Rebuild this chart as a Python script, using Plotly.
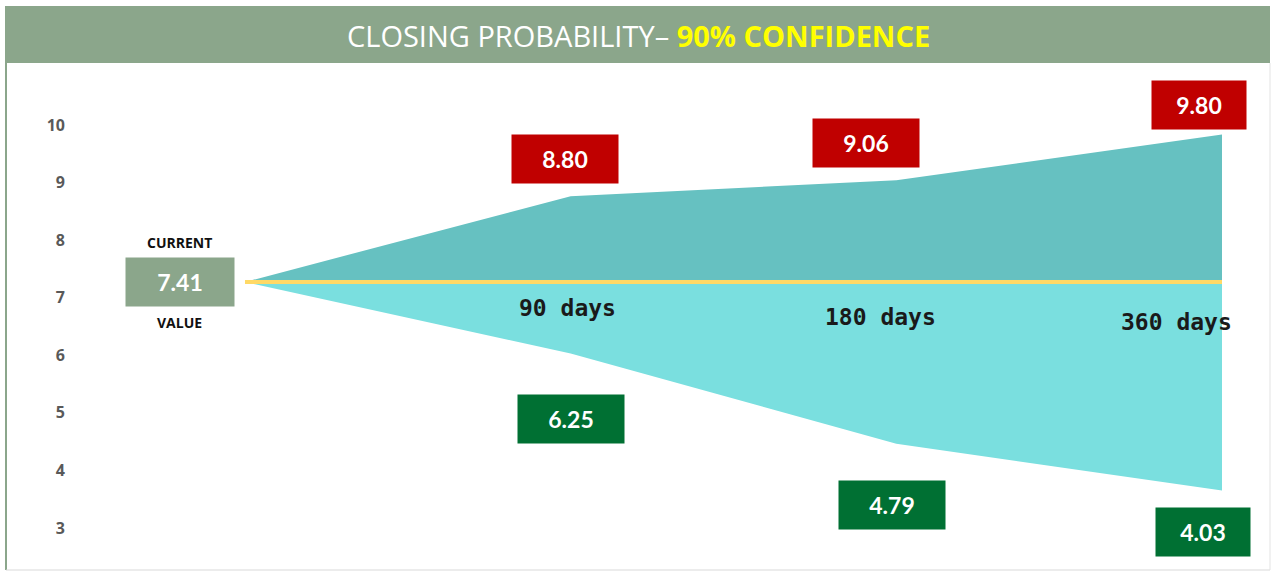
import plotly.graph_objects as go

# --- data -------------------------------------------------------------
categories = ["Current", "90 days", "180 days", "360 days"]
current_value = 7.41
upper_values = [7.41, 8.80, 9.06, 9.80]
lower_values = [7.41, 6.25, 4.79, 4.03]
tick_values = [3, 4, 5, 6, 7, 8, 9, 10]

# --- styling ----------------------------------------------------------
W, H = 1273, 572
ML = 70
SAGE = "#8BA68B"
RED = "#C00000"
GREEN = "#007033"
UPPER_FILL = "#66C1C1"
LOWER_FILL = "#7ADFDF"
YELLOW = "#FFD966"
VALUE_FONT = dict(family="Lato", size=23, color="white", weight="bold")

# box offsets (px) from each data point, and box widths
upper_shift = [None, (-6, 37), (-30, 37), (-23, 30)]
lower_shift = [None, (0, -65), (-4, -61), (-19, -41)]
box_width = [None, 106, 106, 94]
day_shift = [None, (-3, -26), (-16, -35), (-46, -40)]


def px_x(p):
    return (p - ML) / (W - ML)


def px_y(p):
    return 1 - p / H


fig = go.Figure()

baseline = [current_value] * len(categories)

# upper band
fig.add_trace(go.Scatter(x=categories, y=baseline, mode="lines",
                         line=dict(width=0), hoverinfo="skip", showlegend=False))
fig.add_trace(go.Scatter(x=categories, y=upper_values, mode="lines",
                         line=dict(width=0), fill="tonexty", fillcolor=UPPER_FILL,
                         showlegend=False))
# lower band
fig.add_trace(go.Scatter(x=categories, y=baseline, mode="lines",
                         line=dict(width=0), hoverinfo="skip", showlegend=False))
fig.add_trace(go.Scatter(x=categories, y=lower_values, mode="lines",
                         line=dict(width=0), fill="tonexty", fillcolor=LOWER_FILL,
                         showlegend=False))
# current value line
fig.add_trace(go.Scatter(x=categories, y=baseline, mode="lines",
                         line=dict(width=4, color=YELLOW), showlegend=False))

# tick axis only (decorative scale on the left)
fig.add_trace(go.Scatter(x=[categories[0]], y=[tick_values[0]], yaxis="y2",
                         mode="markers", marker=dict(opacity=0),
                         hoverinfo="skip", showlegend=False))

annotations = []
for i in range(1, len(categories)):
    dx, dy = upper_shift[i]
    annotations.append(dict(
        x=categories[i], y=upper_values[i], xref="x", yref="y",
        text=f"{upper_values[i]:.2f}", showarrow=False, xshift=dx, yshift=dy,
        bgcolor=RED, width=box_width[i], height=48, borderpad=0,
        font=VALUE_FONT, valign="middle"))
    dx, dy = lower_shift[i]
    annotations.append(dict(
        x=categories[i], y=lower_values[i], xref="x", yref="y",
        text=f"{lower_values[i]:.2f}", showarrow=False, xshift=dx, yshift=dy,
        bgcolor=GREEN, width=box_width[i], height=48, borderpad=0,
        font=VALUE_FONT, valign="middle"))
    dx, dy = day_shift[i]
    annotations.append(dict(
        x=categories[i], y=current_value, xref="x", yref="y",
        text=categories[i], showarrow=False, xshift=dx, yshift=dy,
        font=dict(family="DejaVu Sans Mono", size=23, color="#1a1a1a",
                  weight="bold")))

# current value box
annotations += [
    dict(x=categories[0], y=current_value, xref="x", yref="y",
         text=f"{current_value:.2f}", showarrow=False, xshift=-65,
         bgcolor=SAGE, width=108, height=48, borderpad=0, font=VALUE_FONT),
    dict(x=categories[0], y=current_value, xref="x", yref="y",
         text="CURRENT", showarrow=False, xshift=-65, yshift=40,
         font=dict(family="Open Sans", size=14, color="#111", weight="bold")),
    dict(x=categories[0], y=current_value, xref="x", yref="y",
         text="VALUE", showarrow=False, xshift=-65, yshift=-40,
         font=dict(family="Open Sans", size=14, color="#111", weight="bold")),
    # title
    dict(x=px_x(638), y=px_y(36), xref="paper", yref="paper",
         xanchor="center", yanchor="middle",
         text="CLOSING PROBABILITY\u2013 <b><span style='color:#FFFF00'>90% CONFIDENCE</span></b>",
         showarrow=False, font=dict(family="Open Sans", size=29, color="white")),
]

shapes = [
    dict(type="rect", xref="paper", yref="paper",
         x0=px_x(5), x1=px_x(1270), y0=px_y(63), y1=px_y(6),
         fillcolor=SAGE, line=dict(width=0), layer="below"),
    dict(type="line", xref="paper", yref="paper",
         x0=px_x(6), x1=px_x(6), y0=px_y(570), y1=px_y(63),
         line=dict(color=SAGE, width=2)),
    dict(type="line", xref="paper", yref="paper",
         x0=px_x(6), x1=px_x(1270), y0=px_y(570), y1=px_y(570),
         line=dict(color="#d9d9d9", width=1)),
    dict(type="line", xref="paper", yref="paper",
         x0=px_x(1270), x1=px_x(1270), y0=px_y(570), y1=px_y(63),
         line=dict(color="#e3e3e3", width=1)),
]

# pixel scale: 7.41 at y=282, 61.7 px per unit
fig.update_layout(
    width=W, height=H,
    margin=dict(l=ML, r=0, t=0, b=0),
    paper_bgcolor="white", plot_bgcolor="white",
    showlegend=False,
    xaxis=dict(type="category", range=[-(245 - ML) / 325.7, 3 + (W - 1222) / 325.7],
               visible=False),
    yaxis=dict(range=[current_value - (H - 282) / 61.7, current_value + 282 / 61.7],
               visible=False),
    yaxis2=dict(overlaying="y", side="left",
                range=[3 - (H - 528) / 57.57, 10 + 125 / 57.57],
                tickvals=tick_values, showgrid=False, zeroline=False,
                showline=False, ticks="", ticklabelstandoff=4,
                tickfont=dict(family="Open Sans", size=16, color="#595959",
                              weight="bold")),
    annotations=annotations,
    shapes=shapes,
)

fig.write_html("out.html", config={"displayModeBar": False},
               post_script="document.body.style.margin='0';")
